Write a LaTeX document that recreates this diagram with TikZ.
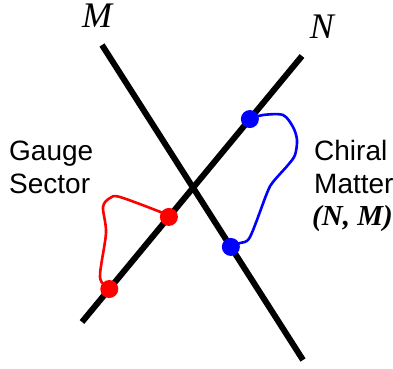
\documentclass[tikz,border=0pt]{standalone}
\usepackage{fontspec}
\setmainfont{Liberation Serif}
\newfontfamily\labelfont{Liberation Sans}
\tikzset{
  brane/.style={line width=6pt},
  dotred/.style={circle,fill=red,inner sep=0pt,minimum size=18pt},
  dotblue/.style={circle,fill=blue,inner sep=0pt,minimum size=18pt},
  sectortext/.style={font=\labelfont\fontsize{28}{33}\selectfont,align=left,inner sep=0pt}
}
\begin{document}
\begin{tikzpicture}[x=1pt,y=-1pt]
  \useasboundingbox (0,0) rectangle (393,368);
  % branes
  \coordinate (mtop) at (102,45);
  \coordinate (mbot) at (303,360);
  \coordinate (ntop) at (302,56);
  \coordinate (nbot) at (82,322);
  \draw[brane] (mtop) -- (mbot);
  \draw[brane] (ntop) -- (nbot);
  \node[font=\itshape\fontsize{36}{36}\selectfont] (mlabel) at (97,16) {M};
  \node[font=\itshape\fontsize{36}{36}\selectfont] (nlabel) at (322,27) {N};
  % end points of the strings
  \path (mtop) -- (mbot) coordinate[pos=0.641] (b2);
  \path (ntop) -- (nbot) coordinate[pos=0.237] (b1);
  \path (ntop) -- (nbot) coordinate[pos=0.605] (r1);
  \path (ntop) -- (nbot) coordinate[pos=0.876] (r2);
  % strings
  \draw[red,line width=2.6pt,line join=round] plot[smooth,tension=0.5] coordinates
    {(r1) (163,213) (120,197) (110,198) (103,207) (106,233) (100,277) (r2)};
  \draw[blue,line width=2.6pt,line join=round] plot[smooth,tension=0.5] coordinates
    {(b1) (263,115) (283,115) (293,127) (297,140) (295,155) (288,165) (273,182) (267,193) (250,237) (240,243) (b2)};
  \node[dotred] (red1) at (r1) {};
  \node[dotred] (red2) at (r2) {};
  \node[dotblue] (blue1) at (b1) {};
  \node[dotblue] (blue2) at (b2) {};
  % labels
  \node[sectortext,anchor=west] (gauge) at (9,167) {Gauge\\Sector};
  \node[sectortext,anchor=west] (chiral) at (314,167) {Chiral\\Matter};
  \node[font=\bfseries\itshape\fontsize{29}{29}\selectfont,anchor=west,inner sep=0pt] (nm) at (312,219) {(N, M)};
\end{tikzpicture}
\end{document}
